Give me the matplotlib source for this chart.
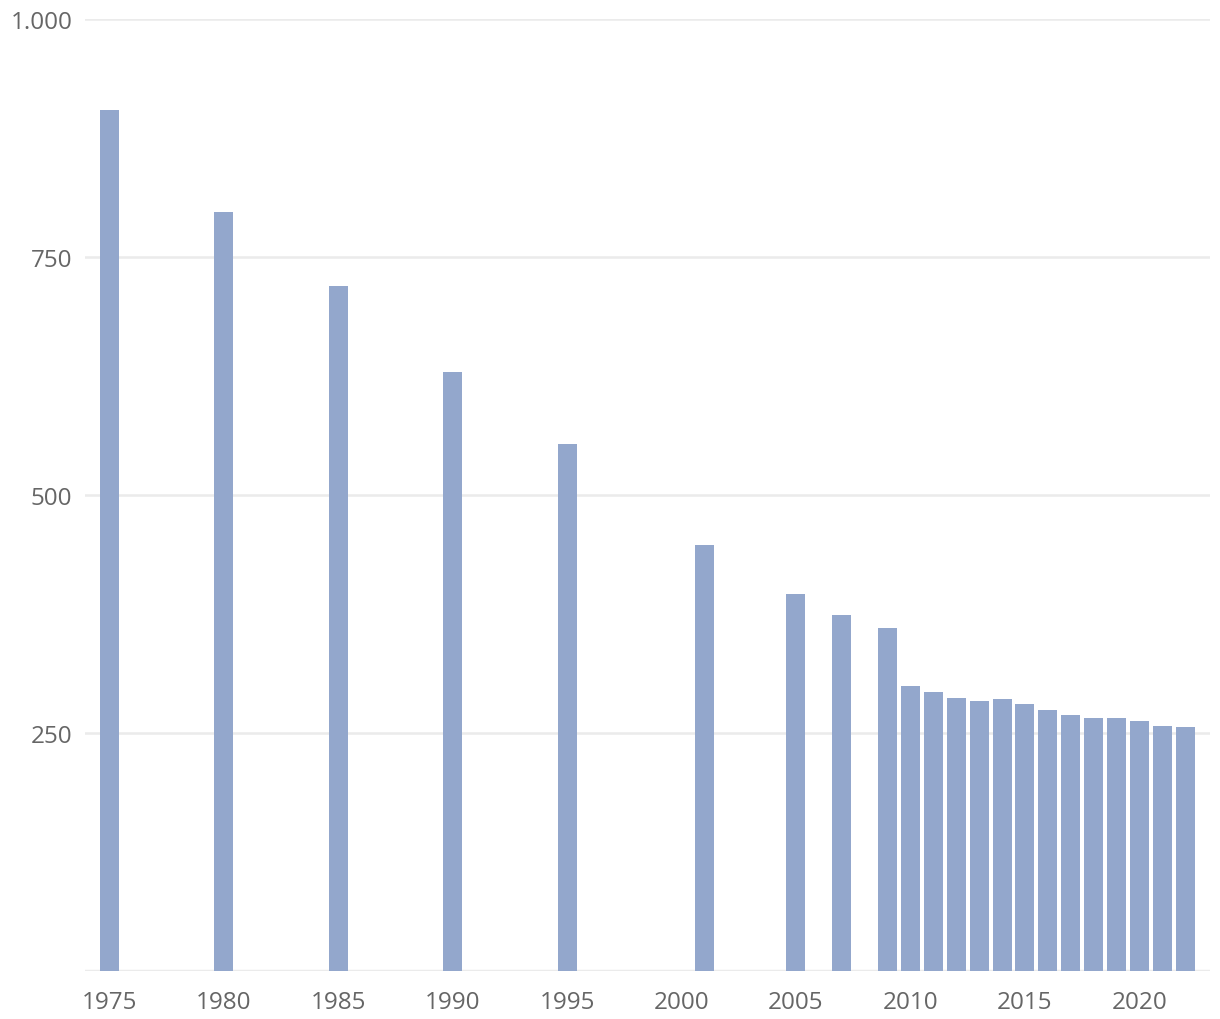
import matplotlib
matplotlib.use("Agg")
import matplotlib.pyplot as plt
from matplotlib.ticker import FuncFormatter

# Data
years = [1975, 1980, 1985, 1990, 1995, 2001, 2005, 2007, 2009, 2010, 2011, 2012,
         2013, 2014, 2015, 2016, 2017, 2018, 2019, 2020, 2021, 2022]
values = [904, 797, 720, 629, 554, 448, 396, 374, 360, 299, 293, 287,
          284, 286, 280, 274, 269, 266, 266, 263, 257, 256]
x_ticks = [1975, 1980, 1985, 1990, 1995, 2000, 2005, 2010, 2015, 2020]
y_ticks = [250, 500, 750, 1000]

plt.rcParams['font.family'] = ['Open Sans', 'DejaVu Sans']

fig = plt.figure(figsize=(12.2, 10.2), dpi=100)
ax = fig.add_axes([85 / 1220, 1 - 972 / 1020, 1125 / 1220, 952 / 1020])

ax.bar(years, values, width=0.83, color='#93a7cc', zorder=3)

ax.set_xlim(1973.95, 2023.08)
ax.set_ylim(0, 1000)
ax.set_xticks(x_ticks)
ax.set_yticks(y_ticks)
ax.yaxis.set_major_formatter(FuncFormatter(lambda v, p: f"{int(v):,}".replace(",", ".")))

ax.grid(axis='y', color='#ebebeb', linewidth=1.8, zorder=0)
ax.axhline(0, color='#ebebeb', linewidth=2.5, zorder=2)
for s in ax.spines.values():
    s.set_visible(False)
ax.tick_params(axis='both', length=0, labelsize=17.5, labelcolor='#666666')
ax.tick_params(axis='x', pad=14)
ax.tick_params(axis='y', pad=9)

fig.savefig('out.png', dpi=100)
